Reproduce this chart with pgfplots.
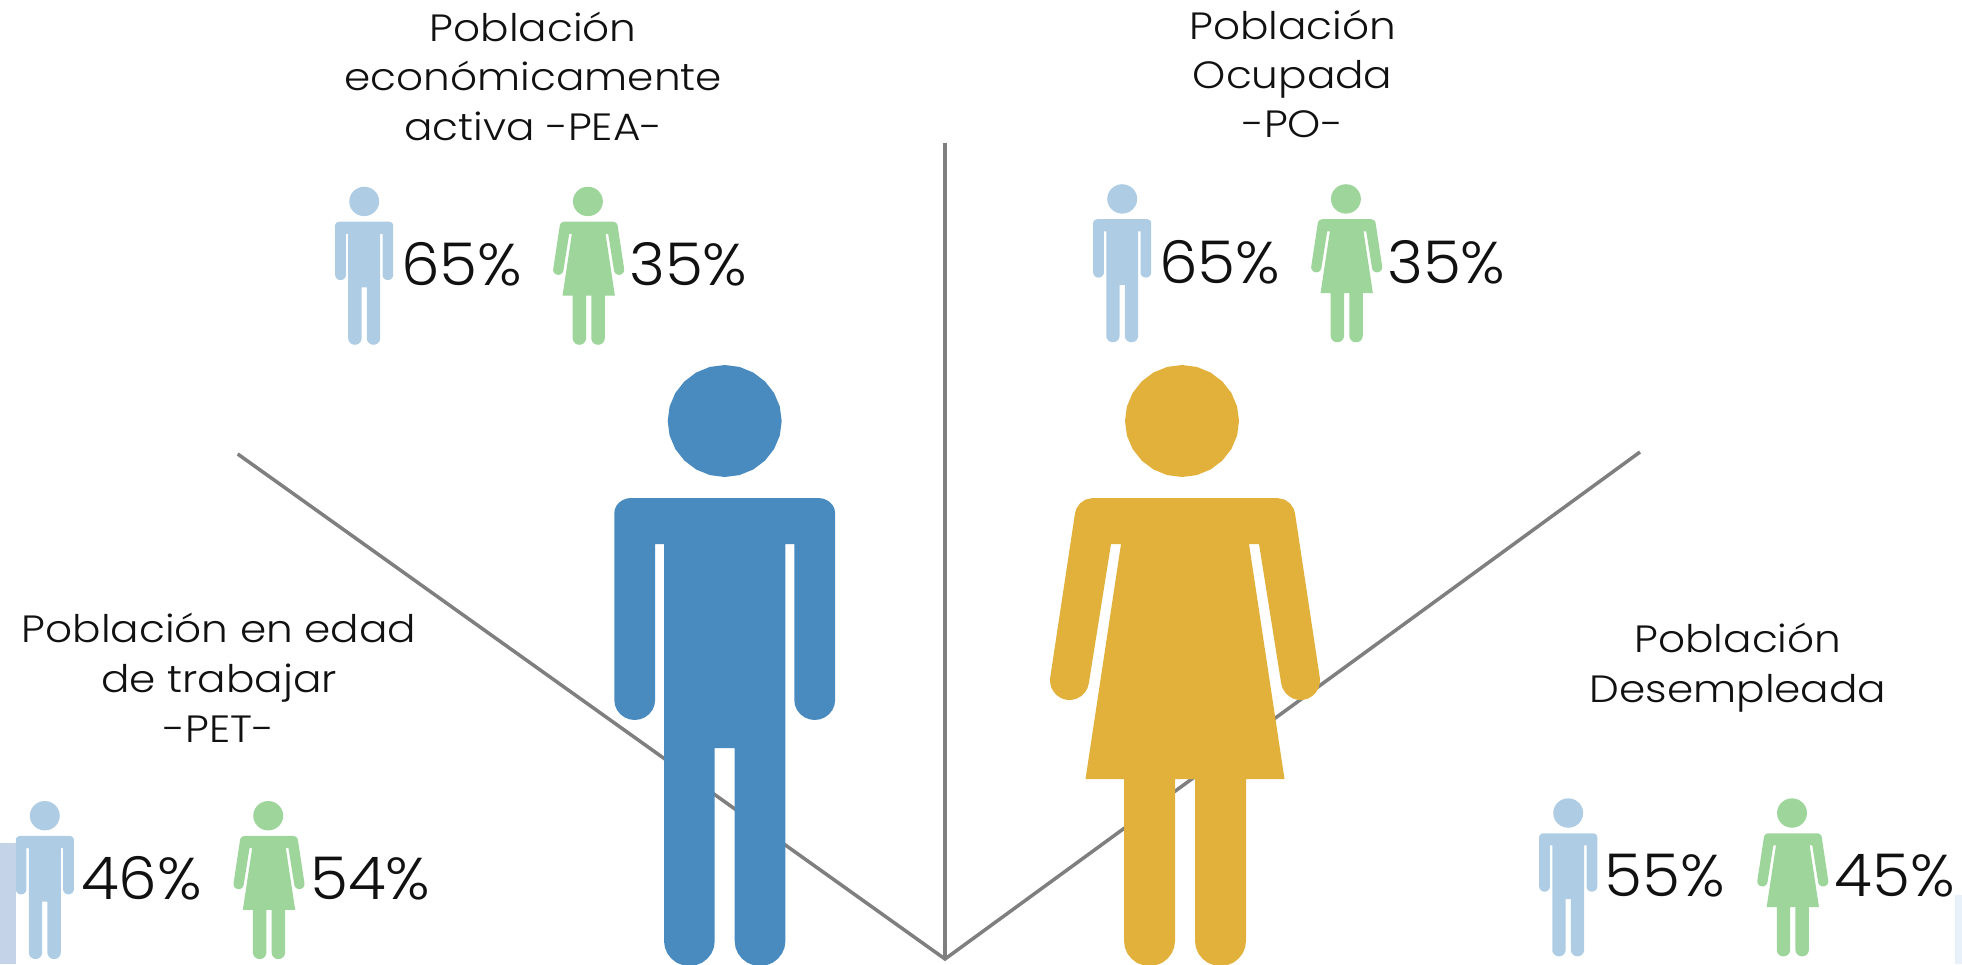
\documentclass[border=0pt]{standalone}
\usepackage{fontspec}
\usepackage{pgfplots}
\usepackage{pgfplotstable}
\pgfplotsset{compat=1.18}
\setmainfont{Poppins Light}
\newfontfamily\titlefont[FakeStretch=1.11]{Poppins Light}
\newfontfamily\pctfont[FakeStretch=1.04]{Poppins Light}

\definecolor{linegray}{HTML}{7F7F7F}
\definecolor{bigblue}{HTML}{4A8BBF}
\definecolor{biggold}{HTML}{E2B13C}
\definecolor{lightblue}{HTML}{AECCE4}
\definecolor{lightgreen}{HTML}{9DD59A}
\definecolor{inkblack}{HTML}{111111}
\definecolor{sideleft}{HTML}{C5D3E8}
\definecolor{sideright}{HTML}{E8F0F9}

\tikzset{
    titulo/.style={anchor=base,inner sep=0pt,text=inkblack,font=\titlefont\fontsize{38}{38}\selectfont},
    pct/.style={anchor=base west,inner sep=0pt,text=inkblack,font=\pctfont\fontsize{59}{59}\selectfont},
}

% silhouettes, local pixels: x from the body centre, y down from the top of the head
\pgfplotstableread{
x y
57 56
55.1 70.5
49.4 84
40.3 95.6
28.5 104.5
14.8 110.1
0 112
-14.8 110.1
-28.5 104.5
-40.3 95.6
-49.4 84
-55.1 70.5
-57 56
-55.1 41.5
-49.4 28
-40.3 16.4
-28.5 7.5
-14.8 1.9
0 0
14.8 1.9
28.5 7.5
40.3 16.4
49.4 28
55.1 41.5
}\headtable

\pgfplotstableread{
x y
-110.4 148
-109.8 144.1
-108.1 140.5
-105.4 137.4
-101.9 135
-97.8 133.5
-93.4 133
93.4 133
97.8 133.5
101.9 135
105.4 137.4
108.1 140.5
109.8 144.1
110.4 148
110.4 335
109.7 340.2
107.7 345
104.4 349.1
100.2 352.3
95.3 354.3
90 355
84.7 354.3
79.8 352.3
75.6 349.1
72.3 345
70.3 340.2
69.6 335
69.6 179
60.7 179
60.7 576
59.8 582.5
57.3 588.5
53.2 593.7
48 597.7
41.9 600.1
35.3 601
28.7 600.1
22.6 597.7
17.4 593.7
13.3 588.5
10.8 582.5
10 576
10 383
-10 383
-10 576
-10.8 582.5
-13.3 588.5
-17.4 593.7
-22.6 597.7
-28.7 600.1
-35.3 601
-41.9 600.1
-48 597.7
-53.2 593.7
-57.3 588.5
-59.8 582.5
-60.7 576
-60.7 179
-69.6 179
-69.6 335
-70.3 340.2
-72.3 345
-75.6 349.1
-79.8 352.3
-84.7 354.3
-90 355
-95.3 354.3
-100.2 352.3
-104.4 349.1
-107.7 345
-109.7 340.2
-110.4 335
}\mantable

\pgfplotstableread{
x y
-110 148.3
-108.5 143.4
-104.9 138.3
-99.8 134.7
-92.2 133
92.2 133
99.8 134.7
104.9 138.3
108.5 143.4
110 148.3
134.8 312.6
134.9 317.6
133.7 322.6
131.2 327
127.7 330.7
123.3 333.4
118.4 334.8
113.4 334.9
108.4 333.7
104 331.2
100.3 327.7
97.6 323.3
96.2 318.5
74 179
64 179
99.5 414
61 414
61 576
60.1 582.5
57.6 588.5
53.5 593.7
48.3 597.7
42.1 600.1
35.5 601
28.9 600.1
22.7 597.7
17.5 593.7
13.4 588.5
10.9 582.5
10 576
10 414
-10 414
-10 576
-10.9 582.5
-13.4 588.5
-17.5 593.7
-22.7 597.7
-28.9 600.1
-35.5 601
-42.1 600.1
-48.3 597.7
-53.5 593.7
-57.6 588.5
-60.1 582.5
-61 576
-61 414
-99.5 414
-64 179
-74 179
-96.2 318.5
-97.6 323.3
-100.3 327.7
-104 331.2
-108.4 333.7
-113.4 334.9
-118.4 334.8
-123.3 333.4
-127.7 330.7
-131.2 327
-133.7 322.6
-134.9 317.6
-134.8 312.6
}\womantable

% #1 body table, #2 colour, #3 centre x, #4 top y, #5 scale, #6 head offset
\newcommand{\persona}[6]{%
  \addplot[fill=#2,draw=none] table[x expr=\thisrow{x}*#5+#3,y expr=\thisrow{y}*#5+#4] {#1} -- cycle;
  \addplot[fill=#2,draw=none] table[x expr=(\thisrow{x}+#6)*#5+#3,y expr=\thisrow{y}*#5+#4] {\headtable} -- cycle;
}
\newcommand{\titulo}[3]{\node[titulo] at (axis cs:#1,#2) {#3};}
\newcommand{\pct}[3]{\node[pct] at (axis cs:#1,#2) {#3\%};}

\begin{document}
\begin{tikzpicture}
\begin{axis}[
    width=1962pt, height=964pt,
    scale only axis,
    xmin=0, xmax=1962,
    ymin=0, ymax=964,
    y dir=reverse,
    hide axis,
]
% leftovers at the lower edges of the reference
\addplot[fill=sideleft,draw=none] coordinates {(0,843) (16,843) (16,964) (0,964)} -- cycle;
\addplot[fill=sideright,draw=none] coordinates {(1955,895) (1962,895) (1962,964) (1955,964)} -- cycle;

% dividing lines
\addplot[linegray,line width=3.5pt,line join=miter] coordinates {(237.7,454) (945,959) (1640,452)};
\addplot[linegray,line width=3.5pt] coordinates {(945,142.6) (945,959)};

% large figures
\persona{\mantable}{bigblue}{724.7}{365}{1}{0}
\persona{\womantable}{biggold}{1185}{365}{1}{-3}

% PET
\persona{\mantable}{lightblue}{44.8}{801}{0.263}{0}
\persona{\womantable}{lightgreen}{269}{801}{0.263}{-3}
% PEA
\persona{\mantable}{lightblue}{364.2}{186.7}{0.263}{0}
\persona{\womantable}{lightgreen}{588.7}{186.7}{0.263}{-3}
% PO
\persona{\mantable}{lightblue}{1122.2}{184.2}{0.263}{0}
\persona{\womantable}{lightgreen}{1346.7}{184.2}{0.263}{-3}
% desempleada
\persona{\mantable}{lightblue}{1568.2}{798.3}{0.263}{0}
\persona{\womantable}{lightgreen}{1792.8}{798.3}{0.263}{-3}

\titulo{533.3}{41.7}{Población}
\titulo{533.3}{90.7}{económicamente}
\titulo{533.3}{140}{activa -PEA-}
\titulo{1292.6}{39}{Población}
\titulo{1292.6}{88}{Ocupada}
\titulo{1292.6}{137.5}{-PO-}
\titulo{219}{642.5}{Población en edad}
\titulo{219}{692.5}{de trabajar}
\titulo{219}{742.5}{-PET-}
\titulo{1738}{652.5}{Población}
\titulo{1738}{702.5}{Desempleada}

\pct{401}{285.3}{65}
\pct{629}{285.3}{35}
\pct{1159}{283}{65}
\pct{1387}{283}{35}
\pct{81}{899.3}{46}
\pct{310}{899.3}{54}
\pct{1604.5}{896.7}{55}
\pct{1834.5}{896.7}{45}
\end{axis}
\path (0,0) rectangle (1962pt,964pt);
\end{tikzpicture}
\end{document}
